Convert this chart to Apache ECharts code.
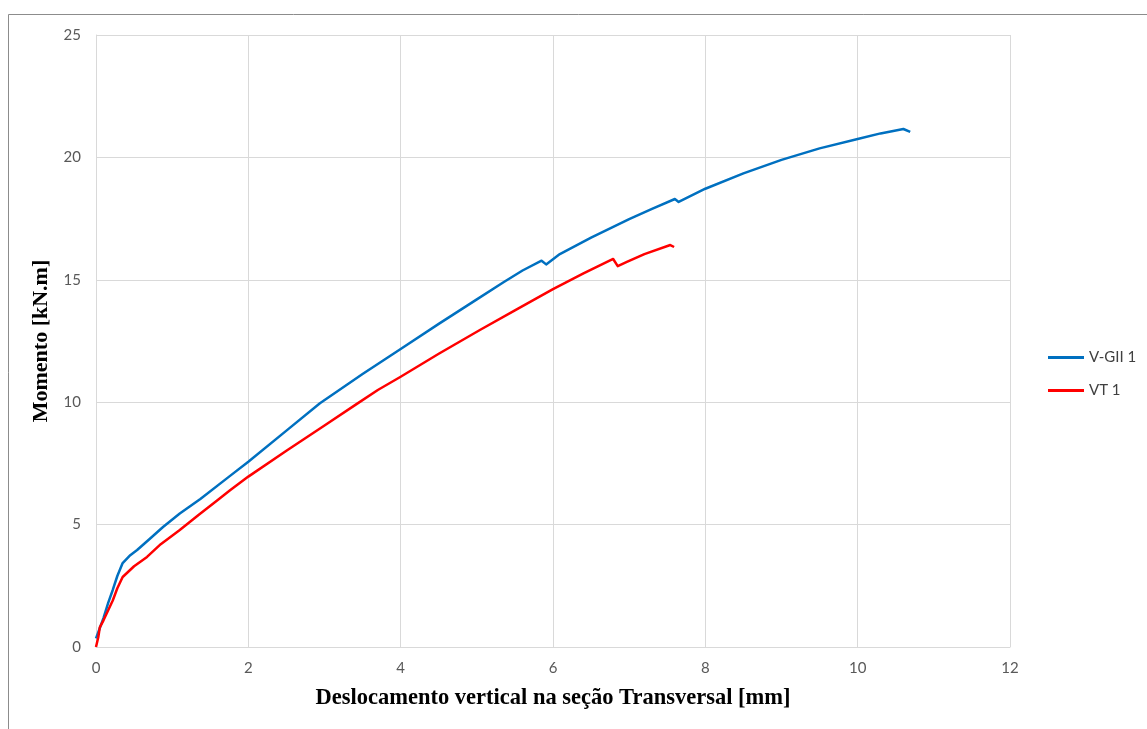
<!DOCTYPE html>
<html>
<head>
<meta charset="utf-8">
<script src="https://cdn.jsdelivr.net/npm/echarts@6/dist/echarts.min.js"></script>
<style>
html,body{margin:0;padding:0;background:#fff;}
#c{width:1147px;height:729px;}
</style>
</head>
<body>
<div id="c"></div>
<script>
const xTitle = 'Deslocamento vertical na seção Transversal [mm]';
const yTitle = 'Momento [kN.m]';
const seriesNames = ['V-GII 1', 'VT 1'];
const vgii1 = [[0,0.35],[0.03,0.6],[0.1,1.2],[0.16,1.8],[0.22,2.33],[0.28,2.9],[0.35,3.43],[0.45,3.75],[0.54,3.96],[0.7,4.4],[0.88,4.9],[1.1,5.45],[1.37,6.05],[1.76,6.99],[2.0,7.57],[2.5,8.84],[2.94,9.96],[3.5,11.15],[4.0,12.17],[4.5,13.2],[5.0,14.2],[5.35,14.9],[5.6,15.38],[5.85,15.78],[5.91,15.63],[6.09,16.05],[6.5,16.72],[7.0,17.48],[7.3,17.9],[7.6,18.3],[7.65,18.18],[8.0,18.72],[8.5,19.35],[9.0,19.9],[9.5,20.37],[10.0,20.75],[10.3,20.98],[10.6,21.16],[10.69,21.04]];
const vt1 = [[0,0],[0.03,0.4],[0.05,0.8],[0.1,1.1],[0.16,1.5],[0.22,1.9],[0.28,2.4],[0.35,2.86],[0.5,3.3],[0.67,3.68],[0.85,4.2],[1.1,4.78],[1.35,5.4],[1.59,5.98],[1.76,6.4],[2.0,6.96],[2.5,8.02],[3.0,9.05],[3.42,9.92],[3.7,10.5],[4.0,11.04],[4.5,11.98],[5.04,12.95],[5.5,13.75],[6.0,14.62],[6.4,15.26],[6.79,15.85],[6.85,15.56],[6.97,15.73],[7.2,16.05],[7.54,16.42],[7.59,16.34]];
const xMin = 0, xMax = 12, xStep = 2;
const yMin = 0, yMax = 25, yStep = 5;

const chart = echarts.init(document.getElementById('c'), null, {renderer:'canvas'});
const labelFont = {color:'#595959', fontSize:15, fontFamily:'Lato, "Open Sans", sans-serif'};
chart.setOption({
  animation:false,
  backgroundColor:'#fff',
  graphic:[{type:'rect', shape:{x:8.5, y:14.5, width:1150, height:730}, style:{fill:'none', stroke:'#8c8c8c', lineWidth:1}, silent:true}],
  grid:{left:96, right:137, top:35, bottom:82, containLabel:false},
  legend:{
    orient:'vertical', left:1043, top:345, itemGap:18, itemWidth:36, itemHeight:3, icon:'rect',
    textStyle:{color:'#404040', fontSize:15, fontFamily:'Lato, "Open Sans", sans-serif'},
    data:seriesNames
  },
  xAxis:{
    type:'value', min:xMin, max:xMax, interval:xStep,
    name:xTitle, nameLocation:'middle', nameGap:40,
    nameTextStyle:{color:'#000', fontSize:22.5, fontWeight:'bold', fontFamily:'"Liberation Serif", "Times New Roman", serif'},
    axisLine:{show:true, lineStyle:{color:'#d9d9d9', width:1}},
    axisTick:{show:false},
    axisLabel:Object.assign({margin:14}, labelFont),
    splitLine:{show:true, lineStyle:{color:'#d9d9d9', width:1}}
  },
  yAxis:{
    type:'value', min:yMin, max:yMax, interval:yStep,
    name:yTitle, nameLocation:'middle', nameGap:35,
    nameTextStyle:{color:'#000', fontSize:22, fontWeight:'bold', fontFamily:'"Liberation Serif", "Times New Roman", serif'},
    axisLine:{show:true, lineStyle:{color:'#d9d9d9', width:1}},
    axisTick:{show:false},
    axisLabel:Object.assign({margin:15}, labelFont),
    splitLine:{show:true, lineStyle:{color:'#d9d9d9', width:1}}
  },
  series:[
    {name:seriesNames[0], type:'line', data:vgii1, showSymbol:false, symbol:'none', smooth:false, lineStyle:{color:'#0070C0', width:2.5, join:'round'}, itemStyle:{color:'#0070C0'}},
    {name:seriesNames[1], type:'line', data:vt1, showSymbol:false, symbol:'none', smooth:false, lineStyle:{color:'#FF0000', width:2.5, join:'round'}, itemStyle:{color:'#FF0000'}}
  ]
});
</script>
</body>
</html>
